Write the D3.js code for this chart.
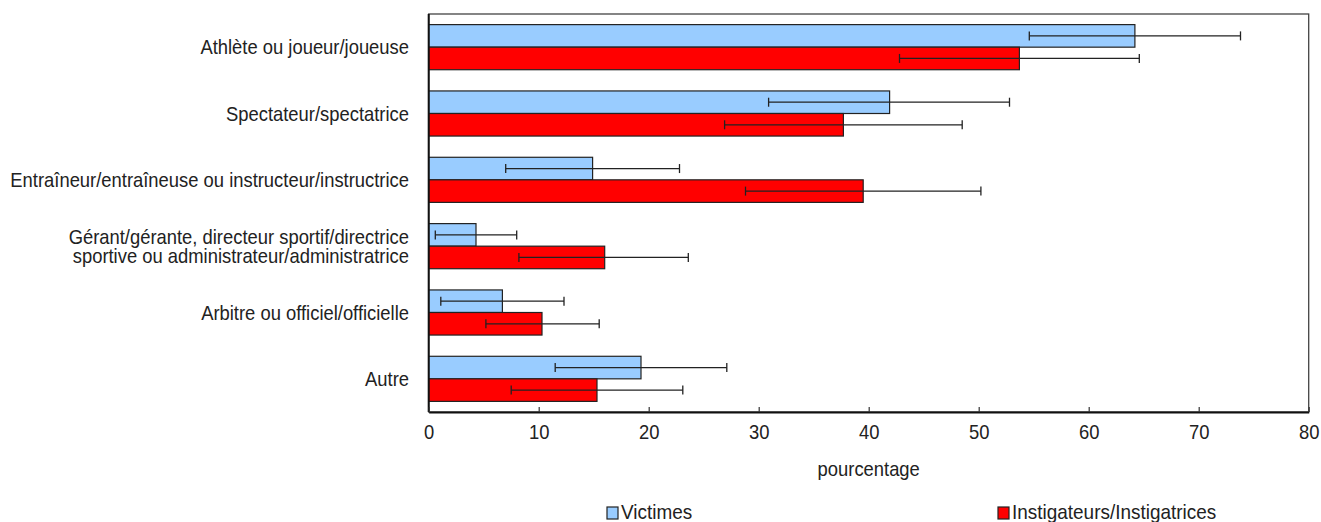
<!DOCTYPE html>
<html>
<head>
<meta charset="utf-8">
<script src="https://cdn.jsdelivr.net/npm/d3@7"></script>
<style>
  html, body { margin: 0; padding: 0; background: #fff; }
  svg { display: block; }
  text { font-family: "Liberation Sans", Arial, sans-serif; fill: #222; }
</style>
</head>
<body>
<svg id="chart" width="1321" height="522"></svg>
<script>
const categories = [
  ["Athlète ou joueur/joueuse"],
  ["Spectateur/spectatrice"],
  ["Entraîneur/entraîneuse ou instructeur/instructrice"],
  ["Gérant/gérante, directeur sportif/directrice", "sportive ou administrateur/administratrice"],
  ["Arbitre ou officiel/officielle"],
  ["Autre"]
];
const seriesNames = ["Victimes", "Instigateurs/Instigatrices"];
const victimes      = [64.2, 41.9, 14.9, 4.3, 6.7, 19.3];
const victimesLow   = [54.6, 30.9, 7.0, 0.6, 1.1, 11.5];
const victimesHigh  = [73.8, 52.8, 22.8, 8.0, 12.3, 27.1];
const instig        = [53.7, 37.7, 39.5, 16.0, 10.3, 15.3];
const instigLow     = [42.8, 26.9, 28.8, 8.2, 5.2, 7.5];
const instigHigh    = [64.6, 48.5, 50.2, 23.6, 15.5, 23.1];
const xTicks = [0, 10, 20, 30, 40, 50, 60, 70, 80];
const xTitle = "pourcentage";
const colors = ["#99ccff", "#ff0000"];

const svg = d3.select("#chart");
const L = 428.7, R = 1308.7, T = 14, B = 412;
const FS = 20;

// condensed look: measure longest label and derive horizontal scale
const probe = svg.append("text").attr("font-size", FS).text(categories[2][0]);
const K = 399 / probe.node().getComputedTextLength();
probe.remove();

function ctext(parent, x, y, anchor, str, size, k) {
  const g = parent.append("g").attr("transform", `translate(${x},${y}) scale(${k || K},1)`);
  return g.append("text").attr("text-anchor", anchor).attr("font-size", size).text(str);
}

const x = d3.scaleLinear().domain([0, 80]).range([L, R]);
const y = d3.scaleBand().domain(d3.range(categories.length)).range([T, B]).paddingInner(0.32).paddingOuter(0.16);
const ySub = d3.scaleBand().domain([0, 1]).range([0, y.bandwidth()]);

const series = [
  { name: seriesNames[0], vals: victimes, lo: victimesLow, hi: victimesHigh, color: colors[0] },
  { name: seriesNames[1], vals: instig, lo: instigLow, hi: instigHigh, color: colors[1] }
];

// frame
svg.append("rect").attr("x", L).attr("y", T).attr("width", R - L).attr("height", B - T)
  .attr("fill", "none").attr("stroke", "#444").attr("stroke-width", 1.3);

// bars
series.forEach((s, si) => {
  svg.append("g").selectAll("rect").data(s.vals).join("rect")
    .attr("x", x(0))
    .attr("y", (d, i) => y(i) + ySub(si))
    .attr("width", d => x(d) - x(0))
    .attr("height", ySub.bandwidth())
    .attr("fill", s.color)
    .attr("stroke", "#222")
    .attr("stroke-width", 1.2);
});

// error bars
series.forEach((s, si) => {
  const g = svg.append("g").attr("stroke", "#222").attr("stroke-width", 1.3);
  s.vals.forEach((d, i) => {
    const cy = y(i) + ySub(si) + ySub.bandwidth() / 2;
    g.append("line").attr("x1", x(s.lo[i])).attr("x2", x(s.hi[i])).attr("y1", cy).attr("y2", cy);
    [s.lo[i], s.hi[i]].forEach(v => {
      g.append("line").attr("x1", x(v)).attr("x2", x(v)).attr("y1", cy - 4.5).attr("y2", cy + 4.5);
    });
  });
});

// left axis line
svg.append("line").attr("x1", L).attr("x2", L).attr("y1", T).attr("y2", B)
  .attr("stroke", "#111").attr("stroke-width", 2);

// bottom axis
const xAxis = d3.axisBottom(x).tickValues(xTicks).tickSizeInner(-5).tickSizeOuter(0).tickPadding(13);
const gx = svg.append("g").attr("transform", `translate(0,${B})`).call(xAxis);
gx.select(".domain").attr("stroke", "#111").attr("stroke-width", 2);
gx.selectAll(".tick line").attr("stroke", "#333").attr("stroke-width", 1.2);
gx.selectAll(".tick text").attr("font-size", FS).attr("fill", "#222")
  .attr("transform", `scale(${K},1)`)
  .style("font-family", '"Liberation Sans", Arial, sans-serif');

// category labels
categories.forEach((lines, i) => {
  const cy = y(i) + y.bandwidth() / 2;
  const lh = 19;
  lines.forEach((ln, j) => {
    ctext(svg, 409, cy + (j - (lines.length - 1) / 2) * lh, "end", ln, FS).attr("dy", "0.35em");
  });
});

// x title
ctext(svg, (L + R) / 2, 476, "middle", xTitle, FS);

// legend
const legendPos = [607, 998];
series.forEach((s, si) => {
  const g = svg.append("g").attr("transform", `translate(${legendPos[si]},507)`);
  g.append("rect").attr("width", 11).attr("height", 12).attr("fill", s.color)
    .attr("stroke", "#222").attr("stroke-width", 1.2);
  ctext(g, 14, 12, "start", s.name, FS, K * 1.03);
});
</script>
</body>
</html>
